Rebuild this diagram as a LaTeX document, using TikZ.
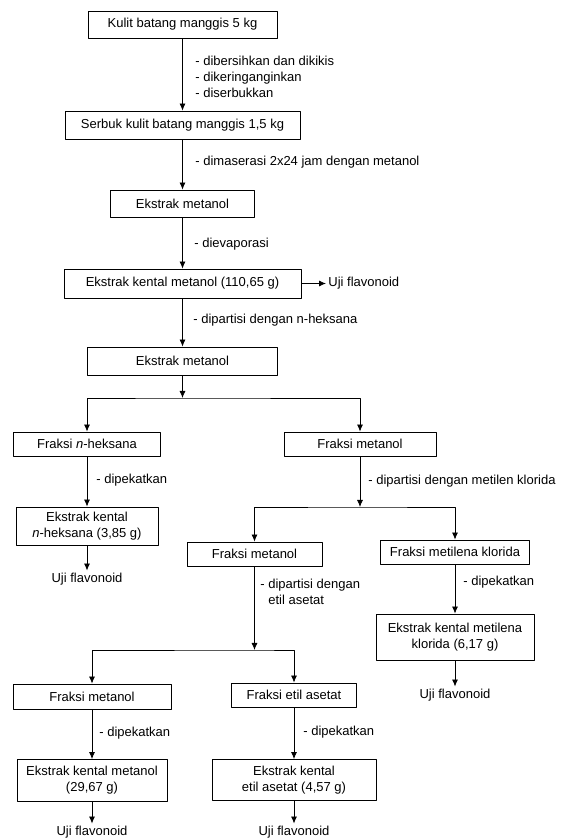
\documentclass[tikz,border=0pt]{standalone}
\usepackage{fontspec}
\setmainfont{Liberation Sans}
\usetikzlibrary{arrows.meta}

\begin{document}
\begin{tikzpicture}[>={Latex[length=7bp,width=6bp]},join=bevel,line width=0.8bp,
  font=\fontsize{13bp}{16bp}\selectfont,
  box/.style={draw,rectangle,align=center,inner sep=2bp},
  lbl/.style={anchor=west,align=left,inner sep=0bp},
  uji/.style={inner sep=2bp}]
%%
\useasboundingbox (0bp,0bp) rectangle (562bp,840bp);
%
% batang utama
  \node (1) at (182.5bp,815.5bp) [box,minimum width=189bp,minimum height=27bp] {Kulit batang manggis 5 kg};
  \node (2) at (182.5bp,715bp) [box,minimum width=235bp,minimum height=28bp] {Serbuk kulit batang manggis 1,5 kg};
  \node (3) at (182.5bp,636.5bp) [box,minimum width=144bp,minimum height=27bp] {Ekstrak metanol};
  \node (4) at (182.5bp,556.5bp) [box,minimum width=237bp,minimum height=29bp] {Ekstrak kental metanol (110,65 g)};
  \node (5) at (182.5bp,479bp) [box,minimum width=190bp,minimum height=28bp] {Ekstrak metanol};
  \node (16) at (326bp,556.5bp) [uji,anchor=west] {Uji flavonoid};

  \node (l1) at (195bp,763bp) [lbl] {- dibersihkan dan dikikis\\- dikeringanginkan\\- diserbukkan};
  \node (l2) at (195bp,678bp) [lbl] {- dimaserasi 2x24 jam dengan metanol};
  \node (l3) at (194bp,596bp) [lbl] {- dievaporasi};
  \node (l4) at (193bp,520bp) [lbl] {- dipartisi dengan n-heksana};
  \coordinate (s1) at (182.5bp,442bp);
%
% fraksi n-heksana
  \node (6) at (87bp,396bp) [box,minimum width=147bp,minimum height=24bp] {Fraksi \textit{n}-heksana};
  \node (7) at (87bp,314bp) [box,minimum width=142bp,minimum height=38bp] {Ekstrak kental\\\textit{n}-heksana (3,85 g)};
  \node (17) at (87bp,261bp) [uji] {Uji flavonoid};
  \node (l5) at (96bp,360bp) [lbl] {- dipekatkan};
%
% fraksi metanol
  \node (8) at (360bp,396bp) [box,minimum width=152bp,minimum height=24bp] {Fraksi metanol};
  \node (l6) at (368bp,359bp) [lbl] {- dipartisi dengan metilen klorida};
  \coordinate (s2) at (360bp,333bp);
  \node (9) at (254.5bp,286bp) [box,minimum width=135bp,minimum height=24bp] {Fraksi metanol};
  \node (l7) at (260bp,248.5bp) [lbl] {- dipartisi dengan\\\phantom{- }etil asetat};
  \coordinate (s3) at (254.5bp,190bp);
  \node (14) at (455bp,288bp) [box,minimum width=149bp,minimum height=24bp] {Fraksi metilena klorida};
  \node (l10) at (463bp,258bp) [lbl] {- dipekatkan};
  \node (15) at (455bp,203bp) [box,minimum width=158bp,minimum height=46bp] {Ekstrak kental metilena\\klorida (6,17 g)};
  \node (20) at (455bp,145bp) [uji] {Uji flavonoid};
%
% baris bawah
  \node (10) at (92bp,143.5bp) [box,minimum width=158bp,minimum height=25bp] {Fraksi metanol};
  \node (l8) at (99bp,107bp) [lbl] {- dipekatkan};
  \node (11) at (92bp,59.5bp) [box,minimum width=150bp,minimum height=42bp] {Ekstrak kental metanol\\(29,67 g)};
  \node (18) at (92bp,8bp) [uji] {Uji flavonoid};
  \node (12) at (294bp,145bp) [box,minimum width=125bp,minimum height=24bp] {Fraksi etil asetat};
  \node (l9) at (303bp,108bp) [lbl] {- dipekatkan};
  \node (13) at (294bp,60bp) [box,minimum width=164bp,minimum height=41bp] {Ekstrak kental\\etil asetat (4,57 g)};
  \node (19) at (294bp,8bp) [uji] {Uji flavonoid};

  \path[->] (1) edge (2);
  \path[->] (2) edge (3);
  \path[->] (3) edge (4);
  \path[->] (4) edge (16);
  \path[->] (4) edge (5);
  \draw[->] (5) -- (s1);
  \draw[<->] (6) |- (s1) -| (8);
  \path[->] (6) edge (7);
  \path[->] (7) edge (17);
  \draw[->] (8) -- (s2);
  \draw[<->] (9) |- (s2) -| (14);
  \path[->] (14) edge (15);
  \path[->] (15) edge (20);
  \draw[->] (9) -- (s3);
  \draw[<->] (10) |- (s3) -| (12);
  \path[->] (10) edge (11);
  \path[->] (11) edge (18);
  \path[->] (12) edge (13);
  \path[->] (13) edge (19);
%
\end{tikzpicture}
\end{document}
